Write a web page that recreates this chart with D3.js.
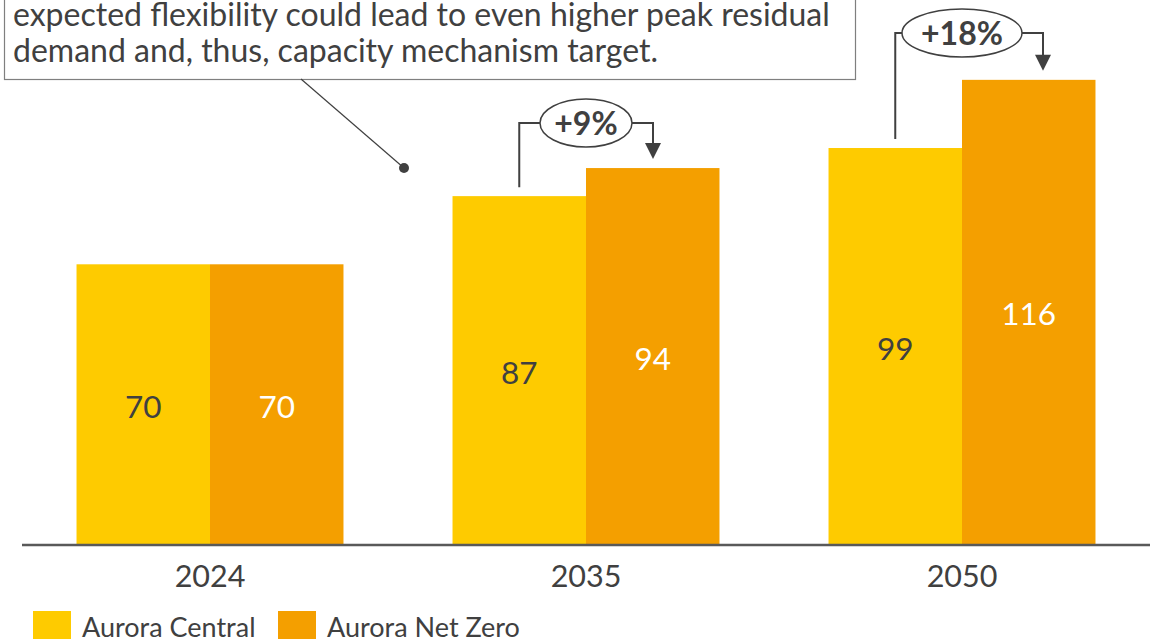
<!DOCTYPE html>
<html><head><meta charset="utf-8">
<script src="https://cdn.jsdelivr.net/npm/d3@7"></script>
<style>body{margin:0;background:#fff;} svg{display:block;font-family:Lato,"Open Sans",sans-serif;}</style>
</head><body>
<svg id="c" width="1153" height="639"></svg>
<script>
const years = ["2024","2035","2050"];
const seriesNames = ["Aurora Central","Aurora Net Zero"];
const central = [70, 87, 99];
const netZero = [70, 94, 116];
const changes = [null, "+9%", "+18%"];
const noteLines = ["expected flexibility could lead to even higher peak residual",
                   "demand and, thus, capacity mechanism target."];
const colors = ["#FECB00", "#F49F00"];

const svg = d3.select("#c");
const text = "#404040";
const baseY = 545;
const x = d3.scaleBand().domain(years).range([22,1150]).paddingInner(0.29).paddingOuter(0.145);
const x1 = d3.scaleBand().domain(seriesNames).range([0, x.bandwidth()]);
const y = d3.scaleLinear().domain([0, 130]).range([baseY, baseY - 130*4.01]);

const data = years.map((yr,i)=>({yr, vals:[central[i], netZero[i]]}));

const g = svg.append("g");
data.forEach(d=>{
  d.vals.forEach((v,j)=>{
    g.append("rect").attr("x", x(d.yr)+x1(seriesNames[j])).attr("y", y(v))
      .attr("width", x1.bandwidth()).attr("height", y(0)-y(v)).attr("fill", colors[j]);
    g.append("text").attr("x", x(d.yr)+x1(seriesNames[j])+x1.bandwidth()/2)
      .attr("y", (y(v)+y(0))/2 + 2).attr("dy","0.35em").attr("text-anchor","middle")
      .attr("font-size",31.5).attr("fill", j===0?text:"#fff").text(v);
  });
});

// axis
const ax = svg.append("g").attr("transform",`translate(0,${baseY})`)
  .call(d3.axisBottom(x).tickSize(0).tickPadding(20));
ax.select(".domain").attr("stroke","#595959").attr("stroke-width",2.5).attr("d","M22,0H1150");
ax.selectAll("text").attr("font-size",30.5).attr("fill",text).attr("font-family","Lato,sans-serif");

// change annotations
const ann = [null, {rx:46, ry:24, cy:123}, {rx:60, ry:24, cy:33}];
data.forEach((d,i)=>{
  if(!changes[i]) return;
  const a = ann[i];
  const xc = x(d.yr)+x1(seriesNames[0])+x1.bandwidth()/2;
  const cx = x(d.yr)+x1.bandwidth();
  const xl = xc;
  const xr = cx + a.rx + 21;
  const ag = svg.append("g");
  ag.append("path").attr("d",`M${xl},${y(d.vals[0])-9}V${a.cy}H${cx-a.rx}`)
    .attr("fill","none").attr("stroke",text).attr("stroke-width",2);
  ag.append("path").attr("d",`M${cx+a.rx},${a.cy}H${xr}V${y(d.vals[1])-24}`)
    .attr("fill","none").attr("stroke",text).attr("stroke-width",2);
  ag.append("path").attr("d",`M${xr-8},${y(d.vals[1])-25}L${xr+8},${y(d.vals[1])-25}L${xr},${y(d.vals[1])-9}Z`)
    .attr("fill",text);
  ag.append("ellipse").attr("cx",cx).attr("cy",a.cy).attr("rx",a.rx).attr("ry",a.ry)
    .attr("fill","#fff").attr("stroke",text).attr("stroke-width",1.5);
  ag.append("text").attr("x",cx).attr("y",a.cy).attr("dy","0.36em").attr("text-anchor","middle")
    .attr("font-size",32).attr("font-weight","bold").attr("fill",text).text(changes[i]);
});

// note box
svg.append("rect").attr("x",4.5).attr("y",-50).attr("width",851).attr("height",129.5)
  .attr("fill","#fff").attr("stroke","#7f7f7f").attr("stroke-width",1.2);
noteLines.forEach((t,i)=>{
  svg.append("text").attr("x",13).attr("y",26+i*36).attr("font-size",32).attr("fill",text).text(t);
});
svg.append("line").attr("x1",301).attr("y1",79).attr("x2",404).attr("y2",168)
  .attr("stroke",text).attr("stroke-width",1.2);
svg.append("circle").attr("cx",404).attr("cy",168).attr("r",5).attr("fill",text);

// legend
const lg = svg.append("g");
const lx = [33, 278];
seriesNames.forEach((n,i)=>{
  lg.append("rect").attr("x",lx[i]).attr("y",611).attr("width",38).attr("height",38).attr("fill",colors[i]);
  lg.append("text").attr("x",lx[i]+49).attr("y",637).attr("font-size",27).attr("fill",text).text(n);
});
</script>
</body></html>
